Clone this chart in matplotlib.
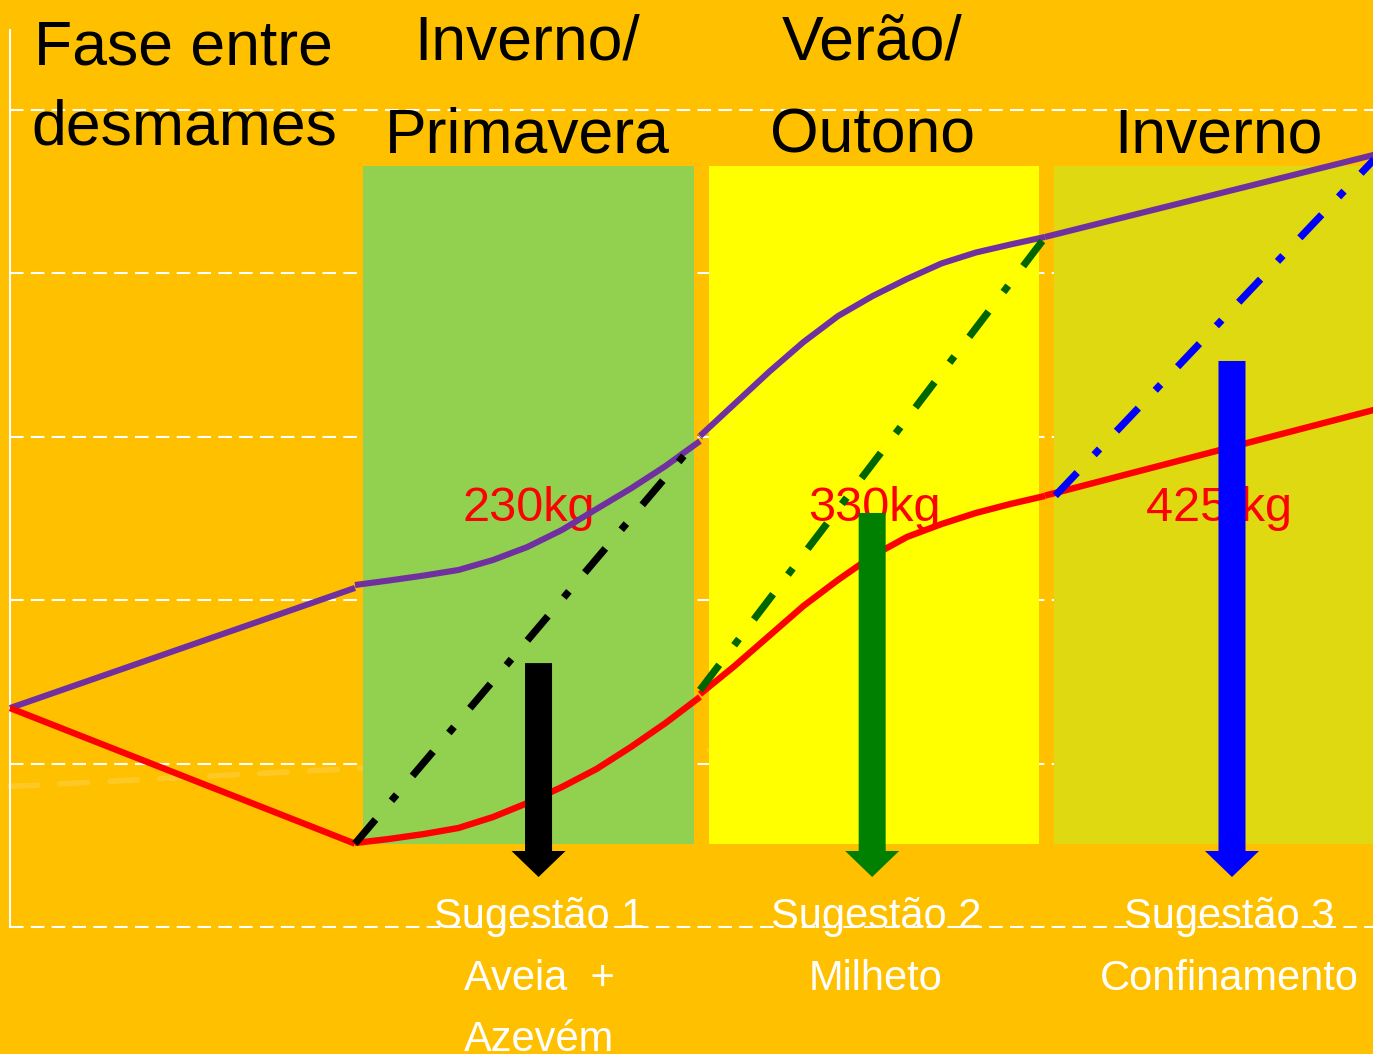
import matplotlib
matplotlib.use("Agg")
import matplotlib.pyplot as plt
from matplotlib.patches import Rectangle

plt.rcParams['font.family'] = ['Liberation Sans', 'DejaVu Sans']

# ---------------- data (x: phase units, y: live weight kg) ----------------
grid_levels = [0, 100, 200, 300, 400, 500]

seg_x = [1.0, 1.1, 1.2, 1.3, 1.4, 1.5, 1.6, 1.7, 1.8, 1.9, 2.0]
seg_x3 = [2.0, 2.1, 2.2, 2.3, 2.4, 2.5, 2.6, 2.7, 2.8, 2.9, 3.0]

# purple (upper) curve, by phase segment
purple_x1 = [0.0, 1.0]
purple_y1 = [134, 207.5]
purple_x2 = seg_x
purple_y2 = [209.3, 212.1, 215.1, 218.5, 224.6, 232.6, 243.0, 255.8, 268.4, 282.1, 297.4]
purple_x3 = seg_x3
purple_y3 = [300.5, 320.1, 339.7, 358.0, 373.9, 386.1, 396.6, 406.1, 412.8, 417.7, 422.3]
purple_x4 = [3.0, 4.0]
purple_y4 = [422.3, 475]

# red (lower) curve, by phase segment
red_x1 = [0.0, 1.0]
red_y1 = [134, 51]
red_x2 = seg_x
red_y2 = [51.4, 53.9, 56.9, 60.6, 67.3, 75.9, 85.7, 96.7, 110.2, 124.8, 140.8]
red_x3 = seg_x3
red_y3 = [142.5, 159.7, 178.1, 196.5, 212.4, 227.1, 238.7, 246.6, 253.4, 258.9, 263.8]
red_x4 = [3.0, 4.0]
red_y4 = [264, 319]

# suggested gain lines (dash-dot)
s1_x = [1.0, 2.0]
s1_y = [51, 300]
s2_x = [2.0, 3.0]
s2_y = [145, 422]
s3_x = [3.03, 4.0]
s3_y = [264, 480]

# faint background line
faint_x = [0.0, 1.0, 2.0, 3.0]
faint_y = [86, 97, 108, 119]

# seasons (shaded boxes)
season_start = [1.023, 2.026, 3.026]
season_end = [1.983, 2.983, 4.05]
season_colors = ['#92D050', '#FFFF00', '#DFD912']
box_bottom, box_top = 51, 466

season_titles = ['Fase entre\ndesmames', 'Inverno/\nPrimavera', 'Verão/\nOutono', 'Inverno']
title_x = [0.504, 1.5, 2.5, 3.504]

weight_labels = ['230kg', '330kg', '425 kg']
weight_x = [1.504, 2.504, 3.503]
weight_y = 256

arrow_x = [1.532, 2.499, 3.542]
arrow_top = [161.5, 253.4, 346.4]
arrow_tip = 30.6
arrow_colors = ['#000000', '#008000', '#0000FF']

sug_lines1 = ['Sugestão 1', 'Sugestão 2', 'Sugestão 3']
sug_lines2 = ['Aveia  +', 'Milheto', 'Confinamento']
sug_lines3 = ['Azevém', '', '']
sug_x = [1.533, 2.51, 3.533]

# ---------------- figure ----------------
W, H = 1373, 1054
fig = plt.figure(figsize=(W / 100, H / 100), dpi=100)
fig.patch.set_facecolor('#FFC000')
ax = fig.add_axes([0, 0, 1, 1])
ax.set_facecolor('#FFC000')
pxx = 345.0      # px per phase
pxy = 1.634      # px per kg
ax.set_xlim(-10 / pxx, (W - 10) / pxx)
ax.set_ylim(-(H - 927) / pxy, 927 / pxy)
ax.axis('off')

# grid
for g in grid_levels:
    ax.plot([0, 4.2], [g, g], color='white', lw=1.5, dashes=(6.5, 3.5), zorder=1)
ax.plot([0, 0], [0, 549], color='white', lw=1.5, zorder=1)
ax.plot(faint_x, faint_y, color='white', alpha=0.15, lw=4, dashes=(5, 4),
        solid_capstyle='round', dash_capstyle='round', zorder=1)

# season boxes
for s, e, c in zip(season_start, season_end, season_colors):
    ax.add_patch(Rectangle((s, box_bottom), e - s, box_top - box_bottom,
                           facecolor=c, edgecolor='none', zorder=2))

# weight labels
for t, x in zip(weight_labels, weight_x):
    ax.text(x, weight_y, t, color='#FF0000', fontsize=35, ha='center',
            va='center', zorder=2.5)

# curves
for xs, ys in [(purple_x1, purple_y1), (purple_x2, purple_y2),
               (purple_x3, purple_y3), (purple_x4, purple_y4)]:
    ax.plot(xs, ys, color='#7030A0', lw=4.4, solid_capstyle='butt',
            solid_joinstyle='round', zorder=4)
for xs, ys in [(red_x1, red_y1), (red_x2, red_y2),
               (red_x3, red_y3), (red_x4, red_y4)]:
    ax.plot(xs, ys, color='#FF0000', lw=4.6, solid_capstyle='butt',
            solid_joinstyle='round', zorder=4)

dd = (4.4, 3.4, 1.1, 3.4)
ax.plot(s1_x, s1_y, color='#000000', lw=5.2, dashes=dd, zorder=5)
ax.plot(s2_x, s2_y, color='#006600', lw=5.2, dashes=dd, zorder=5)
ax.plot(s3_x, s3_y, color='#0000FF', lw=5.2, dashes=dd, zorder=5)

# arrows
shaft_hw = 13.5 / pxx
head_hw = 27 / pxx
head_len = 26 / pxy
for x, top, c in zip(arrow_x, arrow_top, arrow_colors):
    yb = arrow_tip + head_len
    xs = [x - shaft_hw, x + shaft_hw, x + shaft_hw, x + head_hw, x,
          x - head_hw, x - shaft_hw]
    ys = [top, top, yb, yb, arrow_tip, yb, yb]
    ax.fill(xs, ys, color=c, zorder=6, lw=0)

# titles
for t, x in zip(season_titles, title_x):
    lines = t.split('\n')
    if len(lines) == 2:
        ax.text(x, 528 if x < 1 else 531, lines[0], fontsize=45, ha='center',
                va='baseline', color='black', zorder=7)
        ax.text(x, 479 if x < 1 else 474, lines[1], fontsize=45, ha='center',
                va='baseline', color='black', zorder=7)
    else:
        ax.text(x, 474, lines[0], fontsize=45, ha='center', va='baseline',
                color='black', zorder=7)

# suggestions
for x, a, b, c in zip(sug_x, sug_lines1, sug_lines2, sug_lines3):
    ax.text(x, -0.6, a, fontsize=30, color='white', ha='center', va='baseline', zorder=7)
    ax.text(x, -38.5, b, fontsize=30, color='white', ha='center', va='baseline', zorder=7)
    if c:
        ax.text(x, -76, c, fontsize=30, color='white', ha='center', va='baseline', zorder=7)

fig.savefig('out.png', dpi=100, facecolor=fig.get_facecolor())
